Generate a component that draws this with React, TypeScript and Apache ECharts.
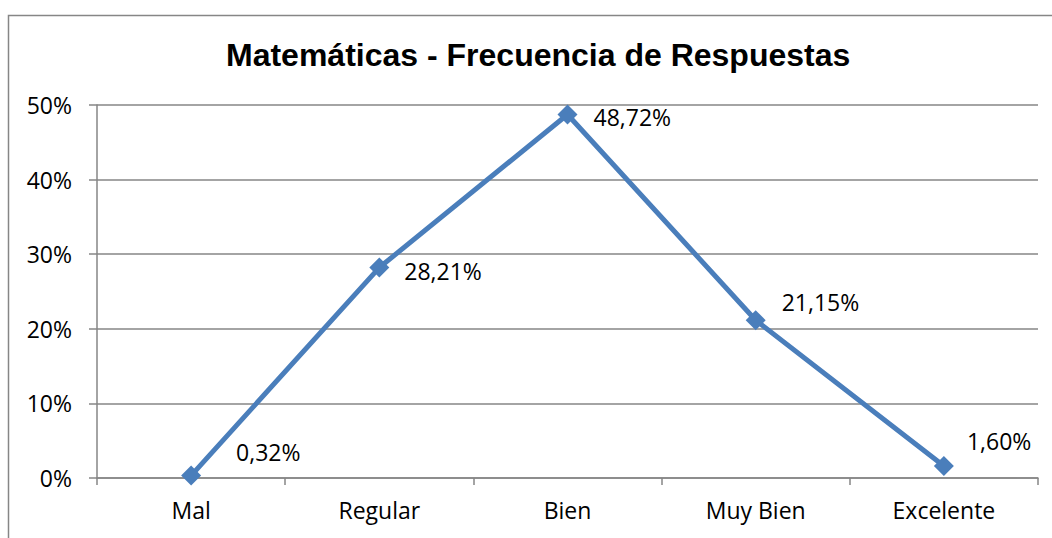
import React, { useEffect, useRef } from "react";
import * as echarts from "echarts";

const categories = ["Mal", "Regular", "Bien", "Muy Bien", "Excelente"];
const values = [0.32, 28.21, 48.72, 21.15, 1.6];
const yTicks = [0, 10, 20, 30, 40, 50];
const titleText = "Matemáticas - Frecuencia de Respuestas";

// label offset tweaks (style only)
const labelOffsets = [
  [30, -24],
  [10, 3],
  [11, 2],
  [11, -18],
  [8, -25],
];

export default function App() {
  const ref = useRef<HTMLDivElement>(null);
  useEffect(() => {
    if (!ref.current) return;
    const chart = echarts.init(ref.current, undefined, { renderer: "svg" });
    const gray = "#868686";
    const font = "'Open Sans', 'Noto Sans', sans-serif";
    chart.setOption({
      animation: false,
      backgroundColor: "#ffffff",
      title: {
        text: titleText,
        left: 221,
        top: 34,
        textStyle: {
          fontFamily: "'Liberation Sans', Arial, sans-serif",
          fontWeight: "bold",
          fontSize: 32,
          color: "#000",
        },
      },
      graphic: [
        {
          type: "rect",
          shape: { x: 8.5, y: 15.5, width: 1100, height: 600 },
          style: { fill: "none", stroke: gray, lineWidth: 1.5 },
          silent: true,
        },
      ],
      grid: { left: 97, right: 14, top: 105, bottom: 60 },
      xAxis: {
        type: "category",
        data: categories,
        boundaryGap: true,
        axisLine: { lineStyle: { color: gray, width: 1.5 } },
        axisTick: { show: true, length: 7, alignWithLabel: false, lineStyle: { color: gray, width: 1.5 } },
        axisLabel: { color: "#000", fontSize: 23, fontFamily: font, margin: 20 },
      },
      yAxis: {
        type: "value",
        min: yTicks[0],
        max: yTicks[yTicks.length - 1],
        interval: 10,
        axisLine: { show: true, lineStyle: { color: gray, width: 1.5 } },
        axisTick: { show: true, length: 8, lineStyle: { color: gray, width: 1.5 } },
        splitLine: { lineStyle: { color: gray, width: 1.5 } },
        axisLabel: {
          color: "#000",
          fontSize: 23,
          fontFamily: font,
          margin: 25,
          formatter: "{value}%",
        },
      },
      series: [
        {
          type: "line",
          data: values.map((v, i) => ({
            value: v,
            label: { offset: labelOffsets[i] },
          })),
          symbol: "diamond",
          symbolSize: 20,
          itemStyle: { color: "#4A7EBB" },
          lineStyle: { color: "#4A7EBB", width: 5 },
          label: {
            show: true,
            position: "right",
            color: "#000",
            fontSize: 23,
            fontFamily: font,
            formatter: (p: any) => p.value.toFixed(2).replace(".", ",") + "%",
          },
        },
      ],
    });
    return () => chart.dispose();
  }, []);
  return (
    <div
      ref={ref}
      style={{ position: "fixed", left: 0, top: 0, width: 1052, height: 538 }}
    />
  );
}
